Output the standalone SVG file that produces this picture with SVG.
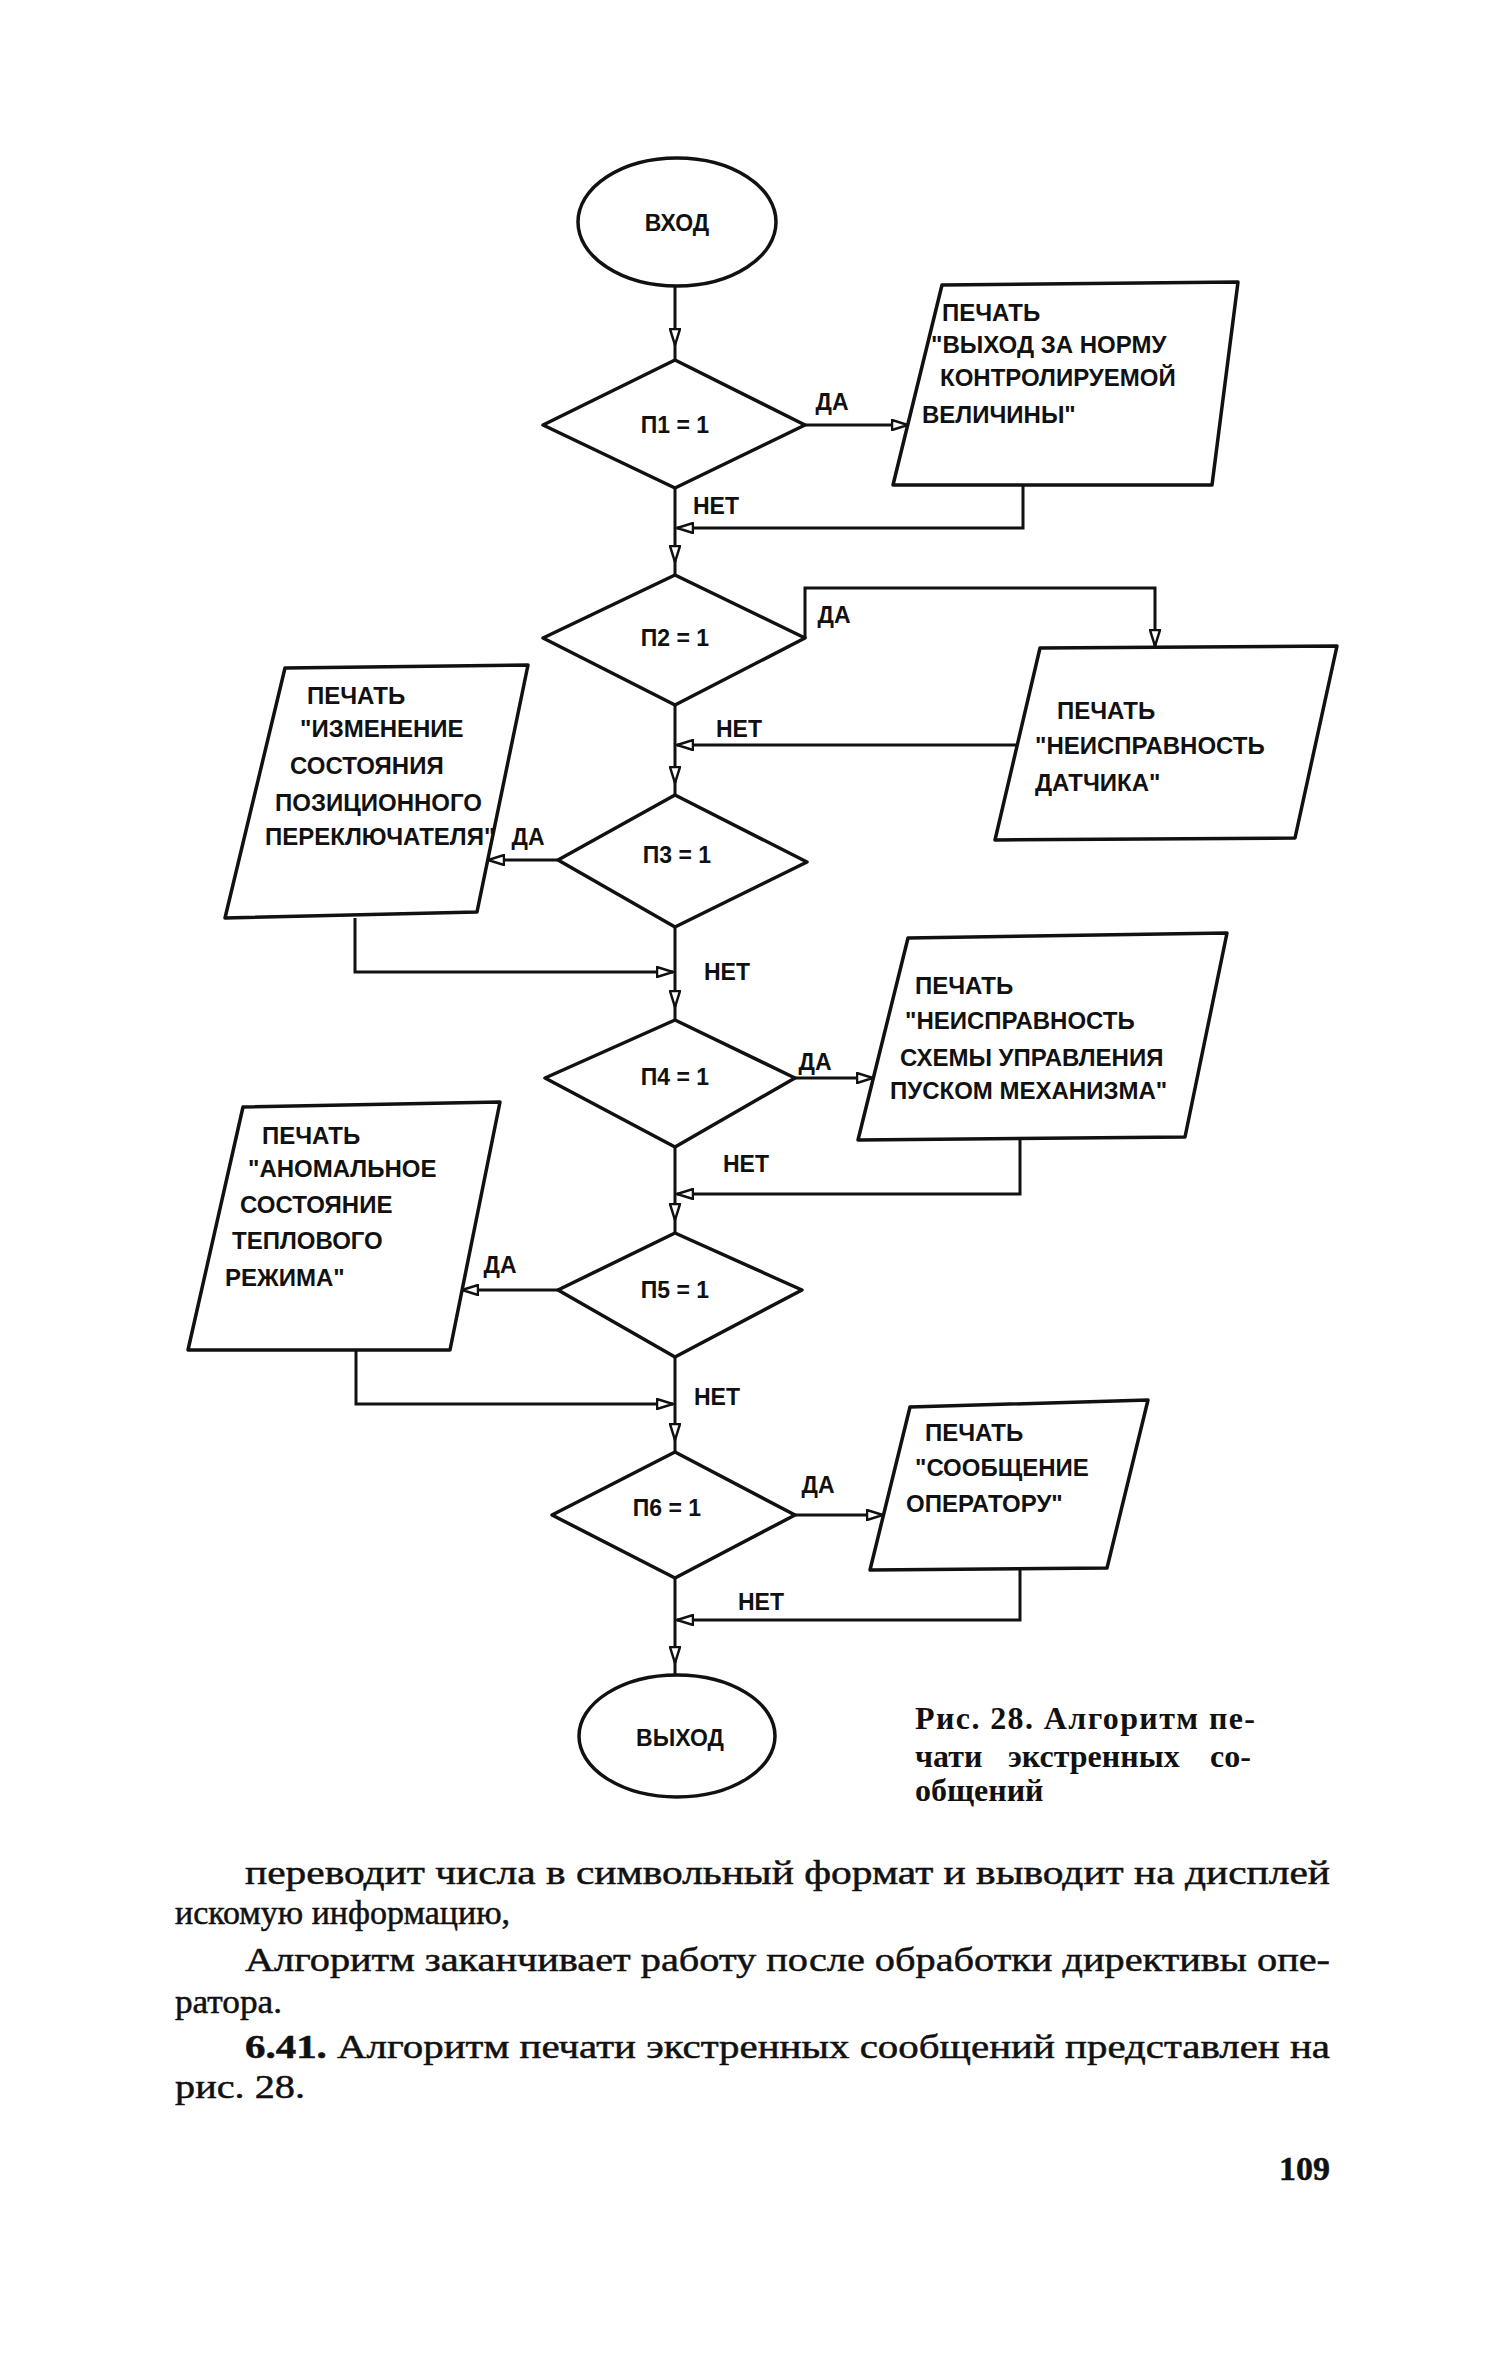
<svg xmlns="http://www.w3.org/2000/svg" width="1500" height="2363" viewBox="0 0 1500 2363">
<style>
.sh{fill:#fff;stroke:#111;stroke-width:3.5;stroke-linejoin:round}
.cn{fill:none;stroke:#111;stroke-width:3}
.t{font-family:"Liberation Sans",Arial,sans-serif;font-weight:bold;font-size:24px;fill:#111}
.m{text-anchor:middle}
.d{font-size:23px}
.l{font-size:23px}
.body{font-family:"Liberation Serif","Times New Roman",serif;font-size:34px;fill:#111;stroke:#111;stroke-width:0.5}
.cap{font-family:"Liberation Serif","Times New Roman",serif;font-weight:bold;font-size:32px;fill:#111}
</style>
<defs>
<marker id="ah" viewBox="0 0 18 12" refX="17" refY="6" markerWidth="18" markerHeight="12" markerUnits="userSpaceOnUse" orient="auto">
<path d="M1,1 L17,6 L1,11 Z" fill="#fff" stroke="#111" stroke-width="2.5"/>
</marker>
</defs>
<rect width="1500" height="2363" fill="#fff"/>

<g id="connectors">
<path class="cn" marker-mid="url(#ah)" d="M675,286 L675,345 L675,360"/>
<path class="cn" marker-end="url(#ah)" d="M805,425 L908,425"/>
<path class="cn" marker-mid="url(#ah)" d="M675,488 L675,562 L675,575"/>
<path class="cn" marker-end="url(#ah)" d="M1023,485 L1023,528 L677,528"/>
<path class="cn" marker-end="url(#ah)" d="M805,638 L805,588 L1155,588 L1155,646"/>
<path class="cn" marker-mid="url(#ah)" d="M675,705 L675,783 L675,795"/>
<path class="cn" marker-end="url(#ah)" d="M1017,745 L677,745"/>
<path class="cn" marker-end="url(#ah)" d="M558,860 L488,860"/>
<path class="cn" marker-mid="url(#ah)" d="M675,927 L675,1007 L675,1020"/>
<path class="cn" marker-end="url(#ah)" d="M355,918 L355,972 L673,972"/>
<path class="cn" marker-end="url(#ah)" d="M795,1078 L873,1078"/>
<path class="cn" marker-mid="url(#ah)" d="M675,1147 L675,1220 L675,1233"/>
<path class="cn" marker-end="url(#ah)" d="M1020,1140 L1020,1194 L677,1194"/>
<path class="cn" marker-end="url(#ah)" d="M558,1290 L462,1290"/>
<path class="cn" marker-mid="url(#ah)" d="M675,1357 L675,1440 L675,1452"/>
<path class="cn" marker-end="url(#ah)" d="M356,1350 L356,1404 L673,1404"/>
<path class="cn" marker-end="url(#ah)" d="M795,1515 L883,1515"/>
<path class="cn" marker-mid="url(#ah)" d="M675,1578 L675,1663 L675,1675"/>
<path class="cn" marker-end="url(#ah)" d="M1020,1570 L1020,1620 L677,1620"/>
<g class="t l m">
<text x="832" y="410">ДА</text>
<text x="716" y="514">НЕТ</text>
<text x="834" y="623">ДА</text>
<text x="739" y="737">НЕТ</text>
<text x="528" y="845">ДА</text>
<text x="727" y="980">НЕТ</text>
<text x="815" y="1070">ДА</text>
<text x="746" y="1172">НЕТ</text>
<text x="500" y="1273">ДА</text>
<text x="717" y="1405">НЕТ</text>
<text x="818" y="1493">ДА</text>
<text x="761" y="1610">НЕТ</text>
</g>
</g>

<g id="start">
<ellipse class="sh" cx="677" cy="222" rx="99" ry="64"/>
<text class="t l m" x="677" y="231">ВХОД</text>
</g>

<g id="p1">
<polygon class="sh" points="675,360 805,425 675,488 543,425"/>
<text class="t d m" x="675" y="433">П1 = 1</text>
</g>
<g id="out1">
<polygon class="sh" points="942,285 1238,282 1212,485 893,485"/>
<text class="t" x="942" y="321">ПЕЧАТЬ</text>
<text class="t" x="931" y="353">"ВЫХОД ЗА НОРМУ</text>
<text class="t" x="940" y="386">КОНТРОЛИРУЕМОЙ</text>
<text class="t" x="922" y="423">ВЕЛИЧИНЫ"</text>
</g>

<g id="p2">
<polygon class="sh" points="675,575 805,638 675,705 543,638"/>
<text class="t d m" x="675" y="646">П2 = 1</text>
</g>
<g id="out2">
<polygon class="sh" points="1040,648 1337,646 1295,838 995,840"/>
<text class="t" x="1057" y="719">ПЕЧАТЬ</text>
<text class="t" x="1035" y="754">"НЕИСПРАВНОСТЬ</text>
<text class="t" x="1035" y="791">ДАТЧИКА"</text>
</g>

<g id="p3">
<polygon class="sh" points="675,795 807,862 675,927 558,860"/>
<text class="t d m" x="677" y="863">П3 = 1</text>
</g>
<g id="out3">
<polygon class="sh" points="285,668 528,665 477,912 225,918"/>
<text class="t" x="307" y="704">ПЕЧАТЬ</text>
<text class="t" x="300" y="737">"ИЗМЕНЕНИЕ</text>
<text class="t" x="290" y="774">СОСТОЯНИЯ</text>
<text class="t" x="275" y="811">ПОЗИЦИОННОГО</text>
<text class="t" x="265" y="845">ПЕРЕКЛЮЧАТЕЛЯ"</text>
</g>

<g id="p4">
<polygon class="sh" points="675,1020 795,1078 675,1147 545,1078"/>
<text class="t d m" x="675" y="1085">П4 = 1</text>
</g>
<g id="out4">
<polygon class="sh" points="908,938 1227,933 1185,1137 858,1140"/>
<text class="t" x="915" y="994">ПЕЧАТЬ</text>
<text class="t" x="905" y="1029">"НЕИСПРАВНОСТЬ</text>
<text class="t" x="900" y="1066">СХЕМЫ УПРАВЛЕНИЯ</text>
<text class="t" x="890" y="1099">ПУСКОМ МЕХАНИЗМА"</text>
</g>

<g id="p5">
<polygon class="sh" points="675,1233 802,1290 675,1357 558,1290"/>
<text class="t d m" x="675" y="1298">П5 = 1</text>
</g>
<g id="out5">
<polygon class="sh" points="243,1107 500,1102 450,1350 188,1350"/>
<text class="t" x="262" y="1144">ПЕЧАТЬ</text>
<text class="t" x="248" y="1177">"АНОМАЛЬНОЕ</text>
<text class="t" x="240" y="1213">СОСТОЯНИЕ</text>
<text class="t" x="232" y="1249">ТЕПЛОВОГО</text>
<text class="t" x="225" y="1286">РЕЖИМА"</text>
</g>

<g id="p6">
<polygon class="sh" points="675,1452 795,1515 675,1578 552,1515"/>
<text class="t d m" x="667" y="1516">П6 = 1</text>
</g>
<g id="out6">
<polygon class="sh" points="910,1407 1148,1400 1107,1568 870,1570"/>
<text class="t" x="925" y="1441">ПЕЧАТЬ</text>
<text class="t" x="915" y="1476">"СООБЩЕНИЕ</text>
<text class="t" x="906" y="1512">ОПЕРАТОРУ"</text>
</g>

<g id="end">
<ellipse class="sh" cx="677" cy="1736" rx="98" ry="61"/>
<text class="t l m" x="680" y="1746">ВЫХОД</text>
</g>

<g id="caption">
<text class="cap" x="915" y="1729" textLength="340" lengthAdjust="spacing">Рис. 28. Алгоритм пе-</text>
<text class="cap" y="1767"><tspan x="915">чати</tspan><tspan x="1008">экстренных</tspan><tspan x="1210">со-</tspan></text>
<text class="cap" x="915" y="1801">общений</text>
</g>

<g id="page-text">
<text class="body" x="245" y="1884" textLength="1085" lengthAdjust="spacingAndGlyphs">переводит числа в символьный формат и выводит на дисплей</text>
<text class="body" x="175" y="1924" textLength="335" lengthAdjust="spacingAndGlyphs">искомую информацию,</text>
<text class="body" x="245" y="1971" textLength="1085" lengthAdjust="spacingAndGlyphs">Алгоритм заканчивает работу после обработки директивы опе-</text>
<text class="body" x="175" y="2013" textLength="107" lengthAdjust="spacingAndGlyphs">ратора.</text>
<text class="body" x="245" y="2058" textLength="1085" lengthAdjust="spacingAndGlyphs"><tspan font-weight="bold">6.41.</tspan> Алгоритм печати экстренных сообщений представлен на</text>
<text class="body" x="175" y="2098" textLength="130" lengthAdjust="spacingAndGlyphs">рис. 28.</text>
<text class="body" x="1330" y="2180" text-anchor="end" font-size="37" font-weight="bold">109</text>
</g>
</svg>
